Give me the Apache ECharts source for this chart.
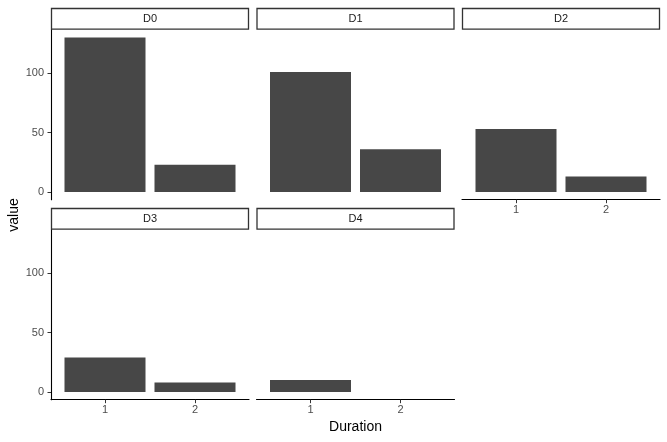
<!DOCTYPE html>
<html>
<head>
<meta charset="utf-8">
<script src="https://cdn.jsdelivr.net/npm/echarts@6/dist/echarts.min.js"></script>
<style>html,body{margin:0;padding:0;background:#fff}#c{width:667px;height:442px}</style>
</head>
<body>
<div id="c"></div>
<script>
const facets = ['D0', 'D1', 'D2', 'D3', 'D4'];
const durations = [1, 2];
const D0 = [130, 23];
const D1 = [101, 36];
const D2 = [53, 13];
const D3 = [29, 8];
const D4 = [10, 0];
const yTicks = [0, 50, 100];
const values = [D0, D1, D2, D3, D4];

const FONT = 'Liberation Sans, Arial, Helvetica, sans-serif';
const panelLeft = [51, 256.5, 462];
const panelW = 198;
const rowTop = [29.7, 229.7];
const panelH = 170;
const stripH = 21.7;
const xMin = 0.4, xMax = 2.6;
const yMin = -6.5, yMax = 136.5;
const barW = 0.9 * panelW / (xMax - xMin);

// which panels show axes (ggplot facet_wrap layout)
const showY = [true, false, false, true, false];
const showX = [false, false, true, true, true];

const grids = [], xAxes = [], yAxes = [], series = [], graphics = [];
facets.forEach((f, i) => {
  const col = i % 3, row = Math.floor(i / 3);
  const left = panelLeft[col], top = rowTop[row];
  grids.push({left: left, top: top, width: panelW, height: panelH, containLabel: false});
  xAxes.push({
    type: 'value', gridIndex: i, min: xMin, max: xMax, show: showX[i],
    splitLine: {show: false},
    axisLine: {show: true, onZero: false, lineStyle: {color: '#000', width: 1.1}},
    axisTick: {show: true, length: 3.5, lineStyle: {color: '#333', width: 1}, customValues: durations},
    axisLabel: {show: true, color: '#4d4d4d', fontSize: 11, fontFamily: FONT, margin: 5, customValues: durations}
  });
  yAxes.push({
    type: 'value', gridIndex: i, min: yMin, max: yMax, show: showY[i],
    splitLine: {show: false},
    axisLine: {show: true, onZero: false, lineStyle: {color: '#000', width: 1.1}},
    axisTick: {show: true, length: 3.5, lineStyle: {color: '#333', width: 1}, customValues: yTicks},
    axisLabel: {show: true, color: '#4d4d4d', fontSize: 11, fontFamily: FONT, margin: 7, customValues: yTicks}
  });
  series.push({
    type: 'bar', xAxisIndex: i, yAxisIndex: i, barWidth: barW,
    itemStyle: {color: '#474747'}, silent: true,
    data: durations.map((d, k) => [d, values[i][k]])
  });
  graphics.push({
    type: 'rect', shape: {x: left + 0.5, y: top - stripH + 0.5, width: panelW - 1, height: stripH - 1},
    style: {fill: '#fff', stroke: '#333', lineWidth: 1.3}
  });
  graphics.push({
    type: 'text', x: left + panelW / 2, y: top - stripH / 2,
    style: {text: f, fill: '#1a1a1a', font: '11px ' + FONT, align: 'center', verticalAlign: 'middle'}
  });
});

graphics.push({
  type: 'text', x: 14, y: 215, rotation: Math.PI / 2,
  style: {text: 'value', fill: '#000', font: '14px ' + FONT, align: 'center', verticalAlign: 'middle'}
});
graphics.push({
  type: 'text', x: 355.5, y: 427.5,
  style: {text: 'Duration', fill: '#000', font: '14px ' + FONT, align: 'center', verticalAlign: 'middle'}
});

const chart = echarts.init(document.getElementById('c'), null, {renderer: 'canvas'});
chart.setOption({
  animation: false,
  backgroundColor: '#fff',
  grid: grids, xAxis: xAxes, yAxis: yAxes, series: series,
  graphic: graphics
});
</script>
</body>
</html>
